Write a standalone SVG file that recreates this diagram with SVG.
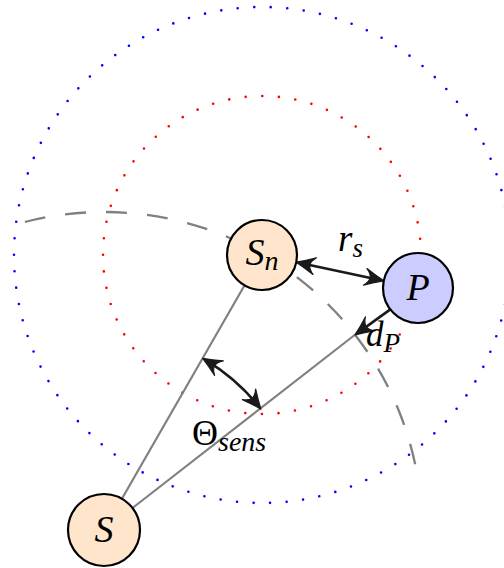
<svg xmlns="http://www.w3.org/2000/svg" width="504" height="568" viewBox="0 0 504 568">
<style>
.math{font-family:"Liberation Serif","Times New Roman",serif;font-style:italic;fill:#000}
.up{font-family:"Liberation Serif","Times New Roman",serif;font-style:normal;fill:#000}
.node{stroke:#000;stroke-width:2.2}
.sens{fill:#ffe5cc}
.pt{fill:#ccccff}
.gray{stroke:#808080;stroke-width:2.2;fill:none}
.arrow{stroke:#1a1a1a;stroke-width:2.6;fill:none}
</style>
<defs>
<marker id="stealth" markerUnits="userSpaceOnUse" viewBox="-22 -11 24 22" markerWidth="24" markerHeight="22" refX="-4" refY="0" orient="auto-start-reverse">
<path d="M0,0 Q-9,-3.5 -19,-8.5 Q-14,-4 -14,0 Q-14,4 -19,8.5 Q-9,3.5 0,0Z" fill="#1a1a1a" stroke="#1a1a1a" stroke-width="1.2" stroke-linejoin="round"/>
</marker>
</defs>
<g id="ranges">
<circle cx="262" cy="255" r="248" fill="none" stroke="#0000ff" stroke-width="2.6" stroke-linecap="round" stroke-dasharray="0 16.577"/>
<circle cx="262" cy="255" r="159" fill="none" stroke="#ff0000" stroke-width="2.6" stroke-linecap="round" stroke-dasharray="0 16.65"/>
<path d="M24.9,222 A318,318 0 0 1 417,473.7" fill="none" stroke="#808080" stroke-width="2.3" stroke-dasharray="21 20"/>
</g>
<g id="connectors">
<line class="gray" x1="121.9" y1="498.8" x2="244.6" y2="285.3"/>
<line class="gray" x1="132.5" y1="508" x2="356" y2="334"/>
<line class="arrow" x1="300.1" y1="263" x2="379.9" y2="280" marker-start="url(#stealth)" marker-end="url(#stealth)"/>
<line class="arrow" x1="390.3" y1="309.4" x2="358.2" y2="332.6" marker-end="url(#stealth)"/>
<path class="arrow" d="M206.1,360.4 A198,198 0 0 1 258.4,406" marker-start="url(#stealth)" marker-end="url(#stealth)"/>
</g>
<g id="node-Sn">
<circle class="node sens" cx="262" cy="255" r="35"/>
<text class="math" x="245.5" y="265" font-size="38">S<tspan font-size="28" dy="5">n</tspan></text>
</g>
<g id="node-P">
<circle class="node pt" cx="418" cy="288" r="35"/>
<text class="math" x="418" y="300" font-size="38" text-anchor="middle">P</text>
</g>
<g id="node-S">
<circle class="node sens" cx="104" cy="530" r="36"/>
<text class="math" x="104" y="542" font-size="38" text-anchor="middle">S</text>
</g>
<g id="labels">
<text class="math" x="338" y="251" font-size="37">r<tspan font-size="27" dy="6">s</tspan></text>
<text class="math" x="366" y="346" font-size="35">d<tspan font-size="27" dy="6">P</tspan></text>
<text class="up" x="192" y="445" font-size="36">Θ<tspan class="math" font-size="28" dy="6">sens</tspan></text>
</g>
</svg>
